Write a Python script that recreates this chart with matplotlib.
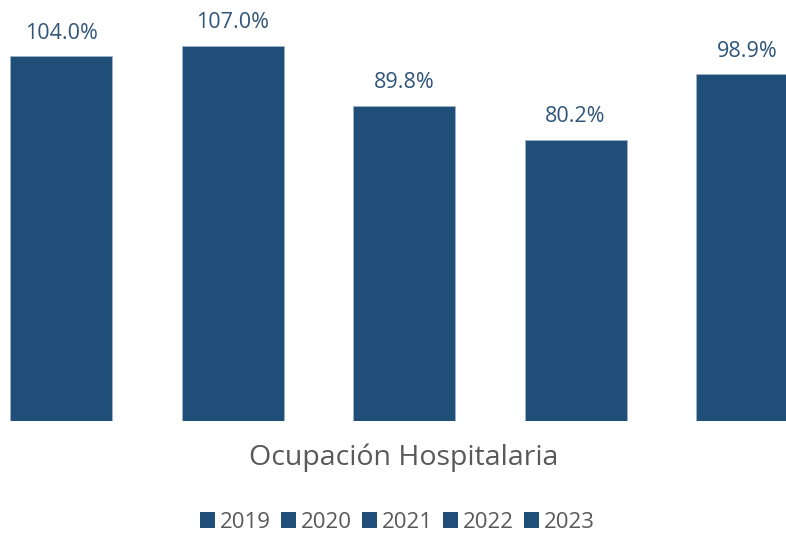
import matplotlib.pyplot as plt
from matplotlib.patches import Patch

years = ['2019', '2020', '2021', '2022', '2023']
occupancy = [104.0, 107.0, 89.8, 80.2, 98.9]
category = 'Ocupación Hospitalaria'

bar_color = '#1f4e78'
label_color = '#2f5579'
text_gray = '#595959'

plt.rcParams['font.family'] = ['Open Sans', 'DejaVu Sans']

fig = plt.figure(figsize=(7.86, 5.35), dpi=100)
ax = fig.add_axes([0, 1 - 421 / 535, 1, 421 / 535])

x = list(range(len(years)))
bars = ax.bar(x, occupancy, width=0.595, color=bar_color,
              edgecolor='#9fb4c8', linewidth=0.6)

for b, v in zip(bars, occupancy):
    ax.annotate(f'{v:.1f}%', (b.get_x() + b.get_width() / 2, v),
                xytext=(0, 9), textcoords='offset points',
                ha='center', va='bottom', fontsize=15.5, color=label_color)

ax.set_xlim(-0.356, 4.227)
ax.set_ylim(0, 120)
ax.axis('off')

fig.text(404 / 786, 1 - 458 / 535, category, ha='center', va='center',
         fontsize=20.5, color=text_gray)

handles = [Patch(facecolor=bar_color, label=y) for y in years]
fig.legend(handles=handles, loc='center', bbox_to_anchor=(397 / 786, 1 - 522 / 535),
           ncol=5, frameon=False, fontsize=16, labelcolor=text_gray,
           handlelength=0.7, handleheight=0.7, handletextpad=0.2,
           columnspacing=0.45, borderpad=0.1)

fig.savefig('out.png', dpi=100)
